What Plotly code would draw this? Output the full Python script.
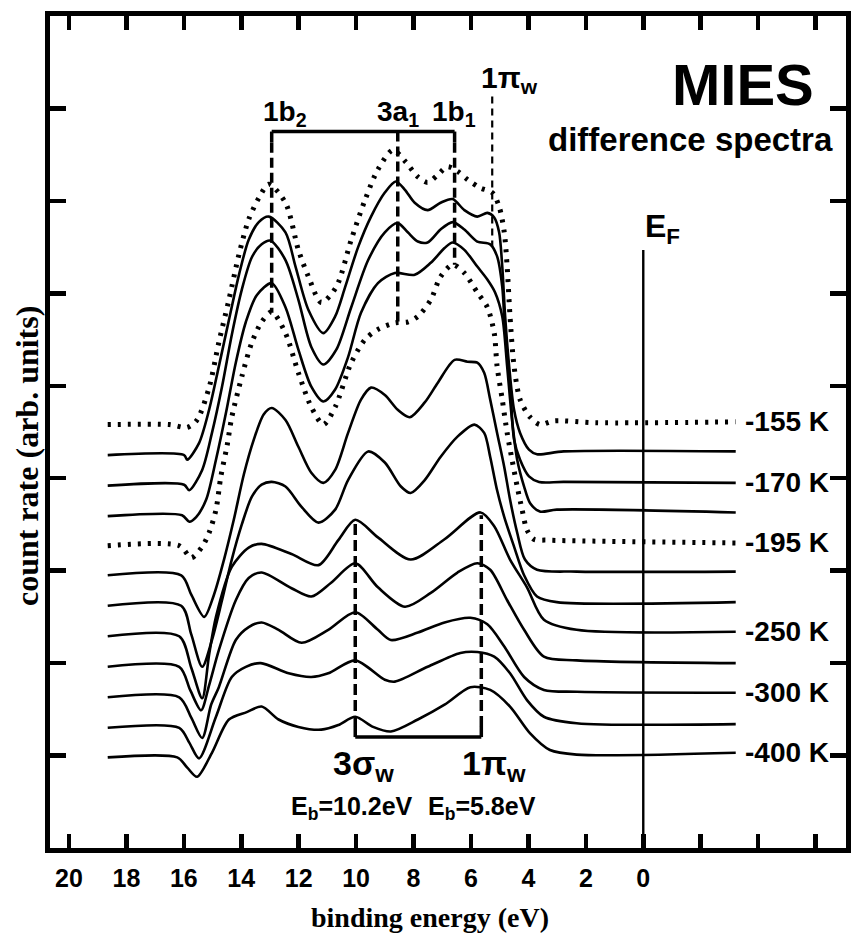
import plotly.graph_objects as go

# ---------------- data (binding energy in eV, count rate in arb. units) -------------
E1 = [18.65, 16.51, 15.88, 15.54, 15.12, 14.78, 14.43, 14.08, 13.74, 13.39, 13.04, 12.46, 12.01, 11.66, 11.21, 10.69, 10.17, 9.69, 9.24, 8.72, 8.27, 7.85, 7.51, 7.16, 6.82, 6.47, 6.12, 5.67, 5.26, 5.02, 4.84, 4.74, 4.64, 4.50, 4.29, 3.94, 3.60, 3.11, 1.63, -3.22]
Y1 = [4.58, 4.58, 4.55, 4.63, 4.98, 5.47, 5.93, 6.42, 6.80, 7.03, 7.18, 6.98, 6.47, 6.18, 5.90, 6.07, 6.58, 7.01, 7.34, 7.55, 7.42, 7.26, 7.20, 7.28, 7.37, 7.32, 7.23, 7.14, 7.09, 6.94, 6.66, 6.29, 5.75, 5.21, 4.85, 4.66, 4.58, 4.62, 4.60, 4.61]

E2 = [18.65, 15.99, 15.88, 15.47, 15.12, 14.78, 14.43, 14.08, 13.74, 13.39, 13.04, 12.46, 12.11, 11.66, 11.14, 10.73, 10.38, 9.93, 9.48, 9.00, 8.62, 8.30, 7.96, 7.51, 7.06, 6.64, 6.23, 5.78, 5.43, 5.19, 5.02, 4.91, 4.81, 4.67, 4.50, 4.29, 3.98, 3.70, 2.77, -3.22]
Y2 = [4.25, 4.25, 4.20, 4.38, 4.74, 5.21, 5.71, 6.20, 6.58, 6.77, 6.83, 6.66, 6.29, 5.82, 5.57, 5.75, 6.07, 6.50, 6.83, 7.09, 7.21, 7.12, 6.98, 6.90, 6.98, 7.02, 6.90, 6.83, 6.87, 6.82, 6.66, 6.29, 5.75, 5.21, 4.74, 4.49, 4.31, 4.26, 4.29, 4.29]

E3 = [18.65, 15.99, 15.81, 15.36, 15.02, 14.67, 14.33, 13.98, 13.63, 13.29, 12.98, 12.46, 12.01, 11.56, 11.14, 10.69, 10.17, 9.58, 9.00, 8.55, 8.20, 7.85, 7.51, 7.06, 6.64, 6.23, 5.78, 5.33, 5.09, 4.91, 4.81, 4.64, 4.50, 4.29, 3.98, 3.63, 2.77, -3.22]
Y3 = [3.92, 3.93, 3.87, 4.09, 4.49, 4.99, 5.55, 6.04, 6.39, 6.53, 6.57, 6.36, 5.93, 5.42, 5.23, 5.39, 5.85, 6.36, 6.66, 6.76, 6.66, 6.56, 6.55, 6.69, 6.77, 6.69, 6.56, 6.53, 6.40, 6.07, 5.57, 5.03, 4.42, 4.20, 4.02, 3.96, 3.96, 3.95]

E4 = [18.65, 16.06, 15.81, 15.57, 15.22, 14.88, 14.53, 14.19, 13.84, 13.46, 12.94, 12.46, 12.01, 11.56, 11.14, 10.73, 10.28, 9.83, 9.24, 8.65, 7.96, 7.40, 6.92, 6.64, 6.23, 5.78, 5.43, 5.16, 4.91, 4.74, 4.57, 4.39, 4.15, 3.94, 3.60, 3.01, -3.22]
Y4 = [3.59, 3.60, 3.53, 3.58, 3.77, 4.20, 4.71, 5.25, 5.69, 5.98, 6.11, 5.85, 5.39, 4.99, 4.83, 4.96, 5.31, 5.79, 6.11, 6.22, 6.20, 6.33, 6.49, 6.55, 6.47, 6.29, 6.15, 6.01, 5.75, 5.21, 4.63, 4.20, 3.91, 3.73, 3.64, 3.66, 3.63]

E5 = [18.65, 16.16, 15.74, 15.36, 15.12, 14.88, 14.71, 14.50, 14.33, 13.98, 13.63, 13.29, 12.94, 12.46, 12.01, 11.56, 11.14, 10.73, 10.17, 9.69, 9.24, 8.65, 8.20, 7.85, 7.40, 7.06, 6.64, 6.23, 5.78, 5.43, 5.19, 5.09, 4.91, 4.74, 4.57, 4.39, 4.22, 4.05, 3.81, 3.36, -3.22]
Y5 = [3.27, 3.27, 3.14, 3.26, 3.41, 3.66, 4.02, 4.34, 4.66, 5.10, 5.47, 5.69, 5.80, 5.57, 5.14, 4.77, 4.58, 4.77, 5.25, 5.50, 5.61, 5.68, 5.69, 5.75, 5.93, 6.18, 6.31, 6.22, 6.01, 5.85, 5.57, 5.21, 4.85, 4.49, 4.20, 3.91, 3.66, 3.44, 3.34, 3.33, 3.30]

E6 = [18.65, 16.09, 15.74, 15.29, 14.95, 14.60, 14.26, 13.91, 13.56, 13.22, 12.94, 12.46, 12.01, 11.56, 11.14, 10.73, 10.28, 9.83, 9.48, 9.00, 8.55, 8.13, 7.61, 7.16, 6.57, 6.12, 5.78, 5.54, 5.33, 5.09, 4.84, 4.64, 4.39, 4.12, 3.70, 2.32, -3.22]
Y6 = [2.95, 2.95, 2.74, 2.50, 2.74, 3.12, 3.55, 4.04, 4.42, 4.69, 4.76, 4.63, 4.34, 4.06, 3.95, 4.09, 4.49, 4.85, 4.98, 4.90, 4.74, 4.66, 4.82, 5.03, 5.28, 5.26, 5.25, 5.14, 4.85, 4.49, 4.12, 3.77, 3.41, 3.12, 3.01, 2.99, 2.99]

E7 = [18.65, 16.09, 15.74, 15.36, 15.02, 14.67, 14.33, 13.98, 13.63, 13.29, 12.94, 12.46, 11.90, 11.31, 10.73, 10.28, 9.58, 9.00, 8.44, 8.10, 7.61, 7.06, 6.47, 5.88, 5.54, 5.33, 5.09, 4.84, 4.50, 4.15, 3.70, 3.01, -3.22]
Y7 = [2.62, 2.62, 2.31, 1.96, 2.25, 2.68, 3.12, 3.50, 3.80, 3.93, 3.96, 3.91, 3.69, 3.52, 3.66, 3.98, 4.29, 4.17, 3.91, 3.84, 3.98, 4.23, 4.45, 4.58, 4.49, 4.23, 3.87, 3.58, 3.26, 2.95, 2.72, 2.66, 2.66]

E8 = [18.65, 16.16, 15.74, 15.36, 15.12, 14.88, 14.33, 13.74, 13.29, 12.25, 11.31, 10.62, 10.03, 9.24, 8.10, 6.92, 5.67, 5.19, 4.64, 4.05, 3.46, 2.32, -3.22]
Y8 = [2.29, 2.29, 1.95, 1.62, 2.09, 2.50, 3.04, 3.25, 3.29, 3.18, 3.06, 3.33, 3.55, 3.36, 3.12, 3.34, 3.63, 3.48, 3.12, 2.82, 2.47, 2.36, 2.34]

E9 = [18.65, 16.16, 15.78, 15.40, 15.12, 14.78, 14.19, 13.74, 13.29, 12.25, 11.56, 10.87, 10.03, 9.24, 8.30, 7.40, 6.47, 5.78, 5.33, 4.74, 4.15, 3.46, 2.32, -3.22]
Y9 = [1.96, 1.96, 1.71, 1.49, 1.76, 2.14, 2.68, 2.92, 2.98, 2.81, 2.72, 2.87, 3.08, 2.82, 2.61, 2.76, 2.98, 3.08, 3.01, 2.68, 2.36, 2.07, 2.03, 2.00]

E10 = [18.65, 16.16, 15.74, 15.36, 15.05, 14.78, 14.19, 13.74, 13.29, 12.70, 11.90, 10.97, 10.03, 9.24, 8.79, 7.85, 6.92, 6.02, 5.43, 4.84, 4.15, 3.46, 2.32, -3.22]
Y10 = [1.63, 1.63, 1.41, 1.19, 1.55, 1.74, 2.25, 2.39, 2.44, 2.36, 2.22, 2.36, 2.55, 2.36, 2.25, 2.33, 2.44, 2.49, 2.42, 2.18, 1.85, 1.71, 1.69, 1.68]

E11 = [18.65, 16.16, 15.81, 15.47, 14.88, 14.33, 13.84, 13.32, 12.35, 11.56, 10.97, 10.03, 9.00, 8.65, 7.51, 6.37, 5.78, 5.19, 4.64, 4.05, 3.46, 2.32, -3.22]
Y11 = [1.30, 1.30, 1.14, 0.97, 1.42, 1.85, 1.96, 2.00, 1.89, 1.85, 1.89, 2.03, 1.82, 1.80, 1.96, 2.11, 2.12, 2.07, 1.89, 1.60, 1.42, 1.35, 1.34]

E12 = [18.65, 16.23, 15.88, 15.54, 15.02, 14.43, 13.81, 13.29, 12.70, 12.01, 11.21, 10.62, 10.03, 9.41, 8.79, 7.85, 6.92, 6.02, 5.33, 4.64, 3.94, 3.25, 2.32, -3.22]
Y12 = [0.98, 0.98, 0.87, 0.77, 1.03, 1.39, 1.47, 1.53, 1.39, 1.31, 1.28, 1.33, 1.42, 1.31, 1.26, 1.39, 1.55, 1.74, 1.71, 1.53, 1.24, 1.06, 1.01, 1.03]

CURVES_E = [E1, E2, E3, E4, E5, E6, E7, E8, E9, E10, E11, E12]
CURVES_Y = [Y1, Y2, Y3, Y4, Y5, Y6, Y7, Y8, Y9, Y10, Y11, Y12]
DOTTED = [True, False, False, False, True, False, False, False, False, False, False, False]

TEMP_LABELS = ["-155 K", "-170 K", "-195 K", "-250 K", "-300 K", "-400 K"]
TEMP_CURVE = [0, 2, 4, 7, 9, 11]

X_TICKS = [20, 18, 16, 14, 12, 10, 8, 6, 4, 2, 0]
X_TICKTEXT = ["20", "18", "16", "14", "12", "10", "8", "6", "4", "2", "0"]
X_EXTRA_TICKS = [-2, -4, -6]
Y_TICKS = [1, 2, 3, 4, 5, 6, 7, 8]

# water-ice orbital markers (eV, arb. units)
UPPER_E = [12.94, 8.55, 6.57]          # 1b2, 3a1, 1b1
UPPER_NAMES = ["1b<sub>2</sub>", "3a<sub>1</sub>", "1b<sub>1</sub>"]
UPPER_LABEL_E = [12.46, 8.55, 6.60]
UPPER_BAR_Y = 7.75
UPPER_HOOK_Y = 7.63
UPPER_DASH_END = [5.79, 5.68, 6.31]
PI_TOP_E = 5.26
PI_TOP_Y = [8.13, 6.50]
LOWER_E = [10.03, 5.64]                # 3sigma_w, 1pi_w
LOWER_BAR_Y = 1.20
LOWER_HOOK_Y = 1.31
LOWER_DASH_TOP = [3.52, 3.60]
EF_E = 0.0
EF_TOP = 6.47

SANS = "Liberation Sans, Arial, sans-serif"
SERIF = "Liberation Serif, Times New Roman, serif"

fig = go.Figure()

for e, y, dot in zip(CURVES_E, CURVES_Y, DOTTED):
    fig.add_trace(go.Scatter(
        x=e, y=y, mode="lines", showlegend=False, hoverinfo="skip",
        line=dict(color="black", width=5 if dot else 2.6,
                  dash="3px,7px" if dot else "solid",
                  shape="spline", smoothing=0.8),
    ))

shapes = []
def seg(x0, y0, x1, y1, width, dash="solid"):
    shapes.append(dict(type="line", xref="x", yref="y", x0=x0, y0=y0, x1=x1, y1=y1,
                       line=dict(color="black", width=width, dash=dash)))

# upper bracket
seg(UPPER_E[0], UPPER_BAR_Y, UPPER_E[-1], UPPER_BAR_Y, 3.5)
seg(UPPER_E[0], UPPER_BAR_Y, UPPER_E[0], UPPER_HOOK_Y, 3.5)
seg(UPPER_E[-1], UPPER_BAR_Y, UPPER_E[-1], UPPER_HOOK_Y, 3.5)
for e, yend in zip(UPPER_E, UPPER_DASH_END):
    top = UPPER_BAR_Y if e not in (UPPER_E[0], UPPER_E[-1]) else UPPER_HOOK_Y
    seg(e, top, e, yend, 3.5, "10px,5px")
# upper 1pi_w marker
seg(PI_TOP_E, PI_TOP_Y[0], PI_TOP_E, PI_TOP_Y[1], 2.2, "7px,5px")
# lower bracket
seg(LOWER_E[0], LOWER_BAR_Y, LOWER_E[1], LOWER_BAR_Y, 3.5)
for e, ytop in zip(LOWER_E, LOWER_DASH_TOP):
    seg(e, LOWER_BAR_Y, e, LOWER_HOOK_Y, 3.5)
    seg(e, LOWER_HOOK_Y, e, ytop, 3.5, "11px,5px")
# Fermi level
seg(EF_E, 0, EF_E, EF_TOP, 2.4)

ann = []
def txt(x, y, s, size, xanchor="center", yanchor="middle", family=SANS, xref="x", yref="y", angle=0):
    ann.append(dict(x=x, y=y, xref=xref, yref=yref, text=s, showarrow=False,
                    xanchor=xanchor, yanchor=yanchor, textangle=angle,
                    font=dict(family=family, size=size, color="black")))

for name, e in zip(UPPER_NAMES, UPPER_LABEL_E):
    txt(e, 7.95, "<b>" + name + "</b>", 28)
txt(4.67, 8.31, "<b>1π<sub>w</sub></b>", 30)
txt(-3.49, 8.26, "<b>MIES</b>", 58)
txt(-1.63, 7.66, "<b>difference spectra</b>", 33)
txt(EF_E, 6.70, "<b>E<sub>F</sub></b>", 32, xanchor="left")
txt(9.76, 0.89, "<b>3σ<sub>w</sub></b>", 34)
txt(5.19, 0.89, "<b>1π<sub>w</sub></b>", 34)
txt(10.14, 0.43, "<b>E<sub>b</sub>=10.2eV</b>", 25)
txt(5.61, 0.43, "<b>E<sub>b</sub>=5.8eV</b>", 25)

for lab, idx in zip(TEMP_LABELS, TEMP_CURVE):
    txt(-3.49, CURVES_Y[idx][-1], "<b>" + lab + "</b>", 28, xanchor="left")

# axis titles
txt(0.477, -0.084, "<b>binding energy (eV)</b>", 28, family=SERIF, xref="paper", yref="paper")
txt(-0.029, 0.471, "<b>count rate (arb. units)</b>", 32, family=SERIF, xref="paper", yref="paper", angle=-90)

fig.update_layout(
    width=854, height=939,
    margin=dict(l=50, r=3, t=16, b=91),
    paper_bgcolor="white", plot_bgcolor="white",
    shapes=shapes, annotations=ann,
    xaxis=dict(range=[20.66, -7.06], autorange=False, tickmode="array",
               tickvals=X_TICKS, ticktext=["<b>" + t + "</b>" for t in X_TICKTEXT],
               ticks="inside", ticklen=14, tickwidth=4.5, tickcolor="black",
               minor=dict(tickmode="array", tickvals=X_EXTRA_TICKS, ticks="inside",
                          ticklen=14, tickwidth=4.5, tickcolor="black", showgrid=False),
               showline=True, linewidth=5, linecolor="black", mirror="ticks",
               showgrid=False, zeroline=False, ticklabelstandoff=4,
               tickfont=dict(family=SANS, size=25, color="black")),
    yaxis=dict(range=[0, 9], autorange=False, tickmode="array", tickvals=Y_TICKS,
               showticklabels=False,
               ticks="inside", ticklen=16, tickwidth=4.5, tickcolor="black",
               showline=True, linewidth=5, linecolor="black", mirror="ticks",
               showgrid=False, zeroline=False),
)

fig.write_html(
    "out.html",
    config={"displayModeBar": False, "staticPlot": True},
    post_script="document.body.style.margin='0px';document.body.style.overflow='hidden';"
                "document.documentElement.style.overflow='hidden';",
)
